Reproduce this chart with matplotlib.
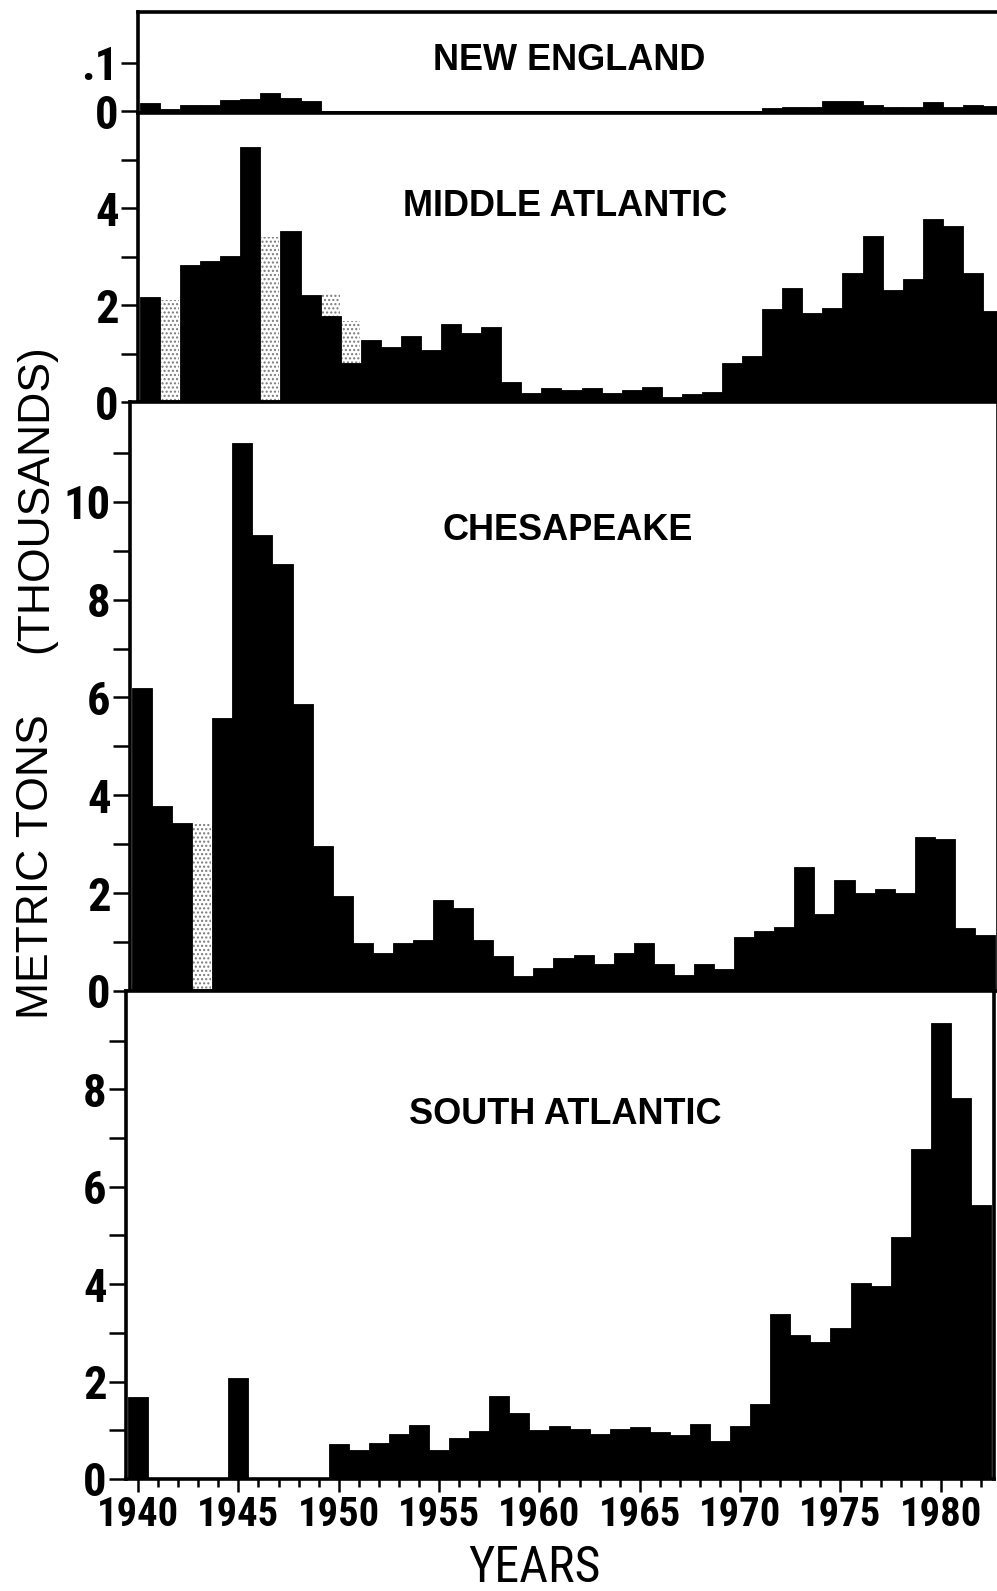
import numpy as np
import matplotlib
matplotlib.use('Agg')
import matplotlib.pyplot as plt
from matplotlib import font_manager as fm

# ---- data: landings by region, thousands of metric tons, 1940-1982 ----
years = np.arange(1940, 1983)

new_england = [0.017, 0.005, 0.012, 0.012, 0.023, 0.024, 0.038, 0.026, 0.020,
               0, 0, 0, 0, 0, 0, 0, 0, 0, 0, 0, 0, 0, 0, 0, 0, 0, 0, 0, 0, 0, 0,
               0.007, 0.008, 0.008, 0.020, 0.020, 0.012, 0.008, 0.009, 0.018,
               0.008, 0.013, 0.010]

middle_atlantic = [2.16, 0, 2.84, 2.91, 3.02, 5.26, 0, 3.54, 2.22, 1.77,
                   0.81, 1.28, 1.14, 1.36, 1.08, 1.62, 1.43, 1.55, 0.41, 0.19,
                   0.29, 0.24, 0.29, 0.19, 0.24, 0.32, 0.10, 0.16, 0.21, 0.81,
                   0.94, 1.92, 2.36, 1.83, 1.95, 2.66, 3.43, 2.31, 2.54, 3.79,
                   3.64, 2.67, 1.88]

chesapeake = [6.19, 3.79, 3.44, 0, 5.58, 11.2, 9.32, 8.72, 5.87, 2.96,
              1.95, 0.98, 0.77, 0.98, 1.04, 1.86, 1.69, 1.04, 0.72, 0.30,
              0.48, 0.67, 0.74, 0.55, 0.78, 0.99, 0.55, 0.33, 0.55, 0.45,
              1.10, 1.22, 1.31, 2.53, 1.57, 2.26, 2.00, 2.08, 2.01, 3.15,
              3.10, 1.28, 1.14]

south_atlantic = [1.68, 0, 0, 0, 0, 2.08, 0, 0, 0, 0,
                  0.72, 0.60, 0.74, 0.92, 1.11, 0.60, 0.85, 0.98, 1.70, 1.36,
                  1.00, 1.09, 1.02, 0.92, 1.02, 1.07, 0.97, 0.90, 1.12, 0.79,
                  1.08, 1.55, 3.39, 2.95, 2.82, 3.11, 4.02, 3.97, 4.97, 6.77,
                  9.37, 7.83, 5.62]

# faint stippled columns (no data / estimated) in the original
ma_grey_years = [1941, 1946, 1949, 1950]
ma_grey_vals = [2.1, 3.4, 2.25, 1.68]
ches_grey_years = [1943]
ches_grey_vals = [3.42]

titles = ['NEW ENGLAND', 'MIDDLE ATLANTIC', 'CHESAPEAKE', 'SOUTH ATLANTIC']
year_ticks = list(range(1940, 1981, 5))

# ---- fonts ----
avail = {f.name for f in fm.fontManager.ttflist}
SANS = 'Liberation Sans' if 'Liberation Sans' in avail else 'DejaVu Sans'


def weight_num(w):
    if isinstance(w, (int, float)):
        return w
    return {'normal': 400, 'regular': 400, 'book': 400, 'medium': 500,
            'semibold': 600, 'demibold': 600, 'bold': 700}.get(str(w).lower(), 400)


def find_condensed(target_weight=400):
    # look for a narrow / condensed upright face
    prefs = ['Liberation Sans Narrow', 'Roboto Condensed', 'DejaVu Sans',
             'Noto Sans', 'Open Sans']
    for pref in prefs:
        hits = []
        for f in fm.fontManager.ttflist:
            if f.name != pref or f.style != 'normal':
                continue
            st = f.stretch
            named = pref in ('Liberation Sans Narrow', 'Roboto Condensed')
            if isinstance(st, str):
                cond = st in ('condensed', 'semi-condensed')
            else:
                cond = 300 <= st < 500
            if not (named or cond):
                continue
            hits.append((abs(weight_num(f.weight) - target_weight), f.fname))
        if hits:
            return sorted(hits)[0][1]
    return None


cond_regular = find_condensed(400)
cond_heavy = find_condensed(600)


def num_font(size, heavy=True):
    f = cond_heavy if heavy else cond_regular
    if f:
        return fm.FontProperties(fname=f, size=size)
    return fm.FontProperties(family=SANS, size=size,
                             weight='bold' if heavy else 'normal')


W, H = 997, 1591
fig = plt.figure(figsize=(W / 100, H / 100), dpi=100)
renderer = fig.canvas.get_renderer()


def fit_size(text, target_w, max_size, heavy=True):
    t = fig.text(0, 0, text, fontproperties=num_font(20, heavy))
    w = t.get_window_extent(renderer).width
    t.remove()
    return min(max_size, 20 * target_w / w)


xlab_size = fit_size('1940', 82, 40)
ylab_size = fit_size('10', 47, 40)
years_size = fit_size('YEARS', 134, 36, heavy=False)

# panel layout in pixels: left, top, bottom, ylim
AX_W = 868
XLIM = (1939.4, 1982.65)
layout = [
    (138, 12, 113, (-0.004, 0.204)),
    (138, 113, 402, (0, 5.97)),
    (130, 402, 991, (0, 12.04)),
    (126, 991, 1479, (0, 10.02)),
]
title_pos = [(569, 60), (565, 206), (568, 530), (565, 1115)]
series = [new_england, middle_atlantic, chesapeake, south_atlantic]

axes = []
for i, (left, top, bottom, ylim) in enumerate(layout):
    ax = fig.add_axes([left / W, 1 - bottom / H, AX_W / W, (bottom - top) / H])
    ax.bar(years, series[i], width=1.0, color='black', edgecolor='black',
           linewidth=0.6, zorder=2)
    ax.set_xlim(*XLIM)
    ax.set_ylim(*ylim)
    for sp in ax.spines.values():
        sp.set_linewidth(2.6)
        sp.set_zorder(3)
    ax.tick_params(axis='y', direction='out', length=12, width=1.8, pad=2)
    axes.append(ax)

# grey stipple columns
for ax, yrs, vals in [(axes[1], ma_grey_years, ma_grey_vals),
                      (axes[2], ches_grey_years, ches_grey_vals)]:
    ax.bar(yrs, vals, width=0.9, color='white', edgecolor='#7a7a7a',
           hatch='....', linewidth=0, zorder=1)

# y ticks
axes[0].set_yticks([0, 0.1])
axes[0].set_yticklabels(['0', '.1'])
for ax, top in [(axes[1], 5), (axes[2], 11), (axes[3], 9)]:
    t = list(range(0, top + 1))
    ax.set_yticks(t)
    ax.set_yticklabels([str(v) if v % 2 == 0 else '' for v in t])

for ax in axes:
    for lab in ax.get_yticklabels():
        lab.set_fontproperties(num_font(ylab_size))

# x ticks only on the bottom panel
for ax in axes[:3]:
    ax.set_xticks([])
sa = axes[3]
sa.set_xticks(year_ticks)
sa.set_xticks(years, minor=True)
sa.set_xticklabels([str(y) for y in year_ticks])
for lab in sa.get_xticklabels():
    lab.set_fontproperties(num_font(xlab_size))
sa.tick_params(axis='x', which='major', direction='out', length=9, width=1.8, pad=3)
sa.tick_params(axis='x', which='minor', direction='out', length=6, width=1.8)

# panel titles
for (x, y), t in zip(title_pos, titles):
    fig.text(x / W, 1 - y / H, t, ha='center', va='center', fontsize=26,
             fontweight='bold', fontfamily=SANS)

# axis labels
fig.text(36 / W, 1 - 867 / H, 'METRIC TONS', rotation=90, ha='center',
         va='center', fontsize=32, fontfamily=SANS)
fig.text(36 / W, 1 - 499 / H, '(THOUSANDS)', rotation=90, ha='center',
         va='center', fontsize=32, fontfamily=SANS)
fig.text(534 / W, 1 - 1568 / H, 'YEARS', ha='center', va='center',
         fontproperties=num_font(years_size, heavy=False))

fig.savefig('out.png', dpi=100, facecolor='white')
